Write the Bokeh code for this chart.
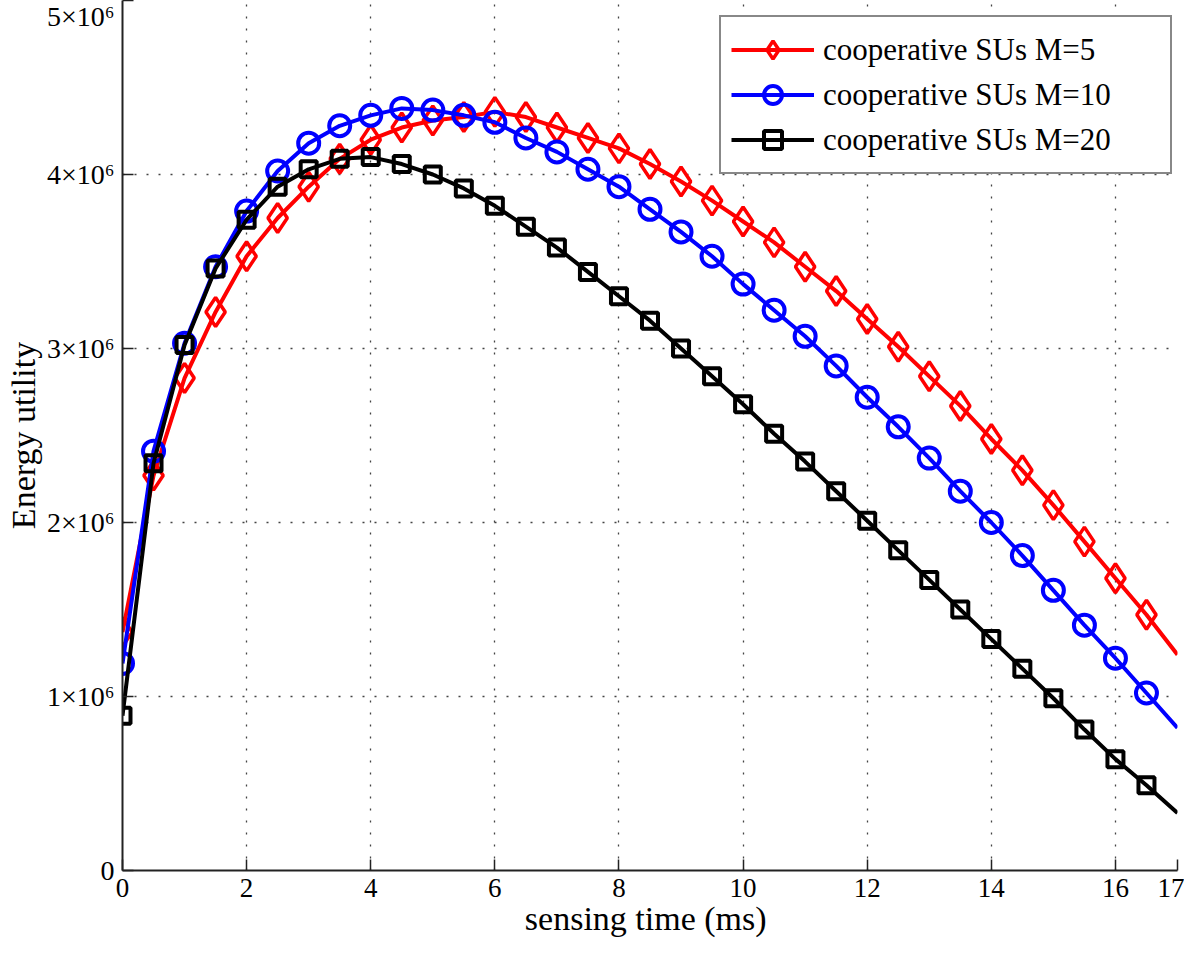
from bokeh.plotting import figure
from bokeh.models import Range1d, FixedTicker, Legend, LegendItem, ColumnDataSource
from bokeh.embed import file_html
from bokeh.resources import INLINE

# sensing time (ms)
sensing_time = [0, 0.5, 1, 1.5, 2, 2.5, 3, 3.5, 4, 4.5, 5, 5.5, 6, 6.5, 7, 7.5, 8, 8.5,
                9, 9.5, 10, 10.5, 11, 11.5, 12, 12.5, 13, 13.5, 14, 14.5, 15, 15.5, 16, 16.5, 17]

# energy utility (x 10^6)
m5 = [1.37, 2.27, 2.83, 3.21, 3.53, 3.75, 3.93, 4.09, 4.20, 4.27, 4.31, 4.33, 4.36, 4.33, 4.27,
      4.21, 4.15, 4.06, 3.96, 3.85, 3.73, 3.61, 3.47, 3.33, 3.17, 3.01, 2.84, 2.67, 2.48, 2.30,
      2.10, 1.89, 1.68, 1.47, 1.24]
m10 = [1.19, 2.41, 3.03, 3.47, 3.79, 4.02, 4.18, 4.28, 4.34, 4.38, 4.37, 4.34, 4.30, 4.21, 4.13,
       4.03, 3.93, 3.80, 3.67, 3.53, 3.37, 3.22, 3.07, 2.90, 2.72, 2.55, 2.37, 2.18, 2.00, 1.81,
       1.61, 1.41, 1.22, 1.02, 0.82]
m20 = [0.89, 2.34, 3.02, 3.46, 3.74, 3.93, 4.03, 4.09, 4.10, 4.06, 4.00, 3.92, 3.82, 3.70, 3.58,
       3.44, 3.30, 3.16, 3.00, 2.84, 2.68, 2.51, 2.35, 2.18, 2.01, 1.84, 1.67, 1.50, 1.33, 1.16,
       0.99, 0.81, 0.64, 0.49, 0.33]

series_labels = ["cooperative SUs M=5", "cooperative SUs M=10", "cooperative SUs M=20"]
x_ticks = [0, 2, 4, 6, 8, 10, 12, 14, 16, 17]
y_ticks = [0, 1e6, 2e6, 3e6, 4e6, 5e6]
y_tick_labels = ["0", "1×10⁶", "2×10⁶", "3×10⁶", "4×10⁶", "5×10⁶"]

FONT = "Liberation Serif"

p = figure(width=1184, height=947, output_backend="svg", toolbar_location=None,
           x_range=Range1d(0, 17), y_range=Range1d(0, 5e6),
           min_border_left=122, min_border_right=7, min_border_top=0, min_border_bottom=77)
p.outline_line_color = None
p.background_fill_color = "white"
p.border_fill_color = "white"

# axes
p.xaxis.ticker = FixedTicker(ticks=x_ticks)
p.yaxis.ticker = FixedTicker(ticks=y_ticks)
p.yaxis.major_label_overrides = {t: l for t, l in zip(y_ticks, y_tick_labels)}
p.xaxis.axis_label = "sensing time  (ms)"
p.yaxis.axis_label = "Energy utility"
for ax in (p.xaxis[0], p.yaxis[0]):
    ax.axis_line_color = "#222222"
    ax.axis_line_width = 2
    ax.major_tick_line_color = "#222222"
    ax.major_tick_line_width = 1.5
    ax.major_tick_in = 11
    ax.major_tick_out = 0
    ax.minor_tick_line_color = None
    ax.major_label_text_font = FONT
    ax.major_label_text_font_size = "27px"
    ax.major_label_text_color = "black"
    ax.axis_label_text_font = FONT
    ax.axis_label_text_font_size = "34px"
    ax.axis_label_text_font_style = "normal"
    ax.axis_label_text_color = "black"
p.yaxis.major_label_text_font_size = "28px"
p.xaxis.major_label_standoff = 8
p.xaxis.axis_label_standoff = 0
p.yaxis.major_label_standoff = 8
p.yaxis.axis_label_standoff = 2

# grid
for g in (p.xgrid[0], p.ygrid[0]):
    g.grid_line_color = "#444444"
    g.grid_line_width = 1.3
    g.grid_line_dash = "2 10"
p.xgrid.ticker = FixedTicker(ticks=x_ticks)
p.ygrid.ticker = FixedTicker(ticks=y_ticks)

specs = [
    (m5, "#FF0000", "diamond", 29, 3.5),
    (m10, "#0000FF", "circle", 21, 4),
    (m20, "#000000", "square", 16, 4),
]
items = []
for (vals, color, marker, size, mlw), label in zip(specs, series_labels):
    ys = [v * 1e6 for v in vals]
    line_src = ColumnDataSource(dict(x=sensing_time, y=ys))
    mark_src = ColumnDataSource(dict(x=sensing_time[:-1], y=ys[:-1]))
    r_line = p.line("x", "y", source=line_src, line_color=color, line_width=4)
    r_mark = p.scatter("x", "y", source=mark_src, marker=marker, size=size,
                       line_color=color, line_width=mlw, fill_alpha=0)
    items.append(LegendItem(label=label, renderers=[r_line, r_mark]))

legend = Legend(items=items, location=(597, 696))
legend.label_text_font = FONT
legend.label_text_font_size = "31px"
legend.label_text_color = "black"
legend.glyph_width = 83
legend.glyph_height = 45
legend.label_height = 45
legend.label_width = 337
legend.label_standoff = 9
legend.spacing = 0
legend.padding = 10
legend.margin = 0
legend.border_line_color = "#111111"
legend.border_line_width = 2
legend.background_fill_alpha = 1
p.add_layout(legend, "center")

open("out.html", "w").write(file_html(p, INLINE))
